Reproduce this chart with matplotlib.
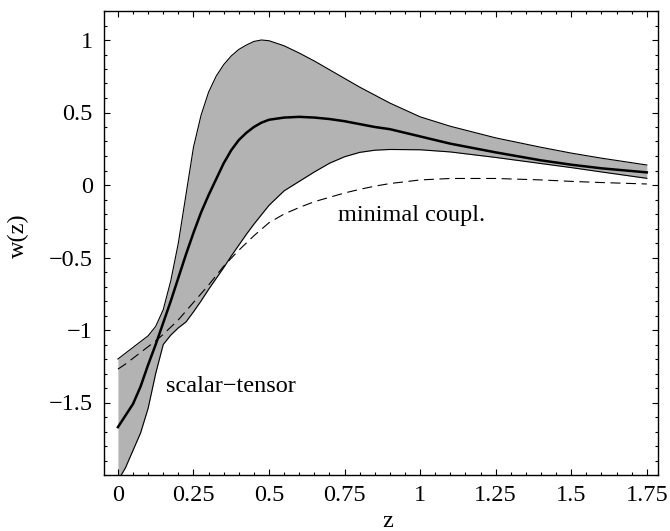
import matplotlib
matplotlib.use("Agg")
import matplotlib.pyplot as plt
from matplotlib.ticker import MultipleLocator

plt.rcParams["font.family"] = ["Liberation Serif", "DejaVu Serif"]

# redshift grid shared by all curves
z = [0, 0.025, 0.05, 0.075, 0.1, 0.125, 0.15, 0.175, 0.2, 0.225, 0.25, 0.275,
     0.3, 0.325, 0.35, 0.375, 0.4, 0.425, 0.45, 0.475, 0.5, 0.55, 0.6, 0.65,
     0.7, 0.75, 0.8, 0.85, 0.9, 1.0, 1.1, 1.25, 1.4, 1.5, 1.6, 1.75]

# scalar-tensor band: upper / best fit / lower
w_upper = [-1.20, -1.16, -1.12, -1.08, -1.04, -0.975, -0.86, -0.66, -0.40, -0.07,
           0.26, 0.48, 0.64, 0.75, 0.83, 0.89, 0.935, 0.965, 0.99, 1.0, 0.995,
           0.96, 0.91, 0.855, 0.795, 0.735, 0.675, 0.62, 0.565, 0.47, 0.405,
           0.325, 0.26, 0.22, 0.185, 0.138]
w_mid = [-1.67, -1.59, -1.51, -1.39, -1.24, -1.10, -0.95, -0.80, -0.64, -0.48,
         -0.33, -0.19, -0.07, 0.04, 0.15, 0.24, 0.31, 0.36, 0.40, 0.43, 0.45,
         0.465, 0.47, 0.465, 0.455, 0.44, 0.42, 0.40, 0.385, 0.335, 0.285,
         0.225, 0.17, 0.14, 0.115, 0.087]
w_lower = [-2.04, -1.95, -1.83, -1.71, -1.54, -1.30, -1.10, -1.035, -0.985, -0.945,
           -0.875, -0.80, -0.72, -0.645, -0.57, -0.49, -0.415, -0.34, -0.27,
           -0.205, -0.14, -0.04, 0.025, 0.09, 0.15, 0.195, 0.225, 0.24, 0.245,
           0.243, 0.228, 0.19, 0.148, 0.12, 0.09, 0.046]

# minimal coupling (dashed)
w_min = [-1.27, -1.235, -1.195, -1.155, -1.115, -1.075, -1.03, -0.98, -0.93, -0.87,
         -0.81, -0.75, -0.69, -0.625, -0.56, -0.505, -0.45, -0.40, -0.35, -0.305,
         -0.26, -0.20, -0.155, -0.115, -0.085, -0.055, -0.03, -0.008, 0.01,
         0.035, 0.045, 0.045, 0.035, 0.025, 0.017, 0.007]

xticks = [0, 0.25, 0.5, 0.75, 1, 1.25, 1.5, 1.75]
xticklabels = ["0", "0.25", "0.5", "0.75", "1", "1.25", "1.5", "1.75"]
yticks = [-1.5, -1, -0.5, 0, 0.5, 1]
yticklabels = ["\u22121.5", "\u22121", "\u22120.5", "0", "0.5", "1"]

fs = 17.5

fig = plt.figure(figsize=(6.7, 5.31), dpi=100)
ax = fig.add_axes([104 / 670, 1 - 475 / 531, 554 / 670, 464 / 531])

ax.fill_between(z, w_lower, w_upper, color="#b3b3b3", lw=0)
ax.plot(z, w_upper, color="black", lw=0.8)
ax.plot(z, w_lower, color="black", lw=0.8)
ax.plot(z, w_mid, color="black", lw=1.8)
ax.plot(z, w_min, color="black", lw=0.8, dashes=(9, 5))

ax.set_xlim(-0.046, 1.787)
ax.set_ylim(-2.0, 1.2)

ax.set_xticks(xticks)
ax.set_xticklabels(xticklabels)
ax.set_yticks(yticks)
ax.set_yticklabels(yticklabels)
ax.xaxis.set_minor_locator(MultipleLocator(0.05))
ax.yaxis.set_minor_locator(MultipleLocator(0.1))
ax.tick_params(which="both", direction="in", top=True, right=True,
               width=0.8, labelsize=fs)
ax.tick_params(which="major", length=4.5)
ax.tick_params(which="minor", length=2.5)
ax.tick_params(axis="x", pad=7)
ax.tick_params(axis="y", pad=8)
for s in ax.spines.values():
    s.set_linewidth(1.0)

ax.text(0.16, -1.39, "scalar\u2212tensor", fontsize=fs, ha="left", va="center")
ax.text(0.728, -0.21, "minimal coupl.", fontsize=fs, ha="left", va="center")

fig.text(18 / 670, 1 - 236 / 531, "w(z)", fontsize=fs, rotation=90,
         ha="center", va="center")
fig.text(388 / 670, 4 / 531, "z", fontsize=fs, ha="center", va="baseline")

fig.savefig("out.png", dpi=100)
